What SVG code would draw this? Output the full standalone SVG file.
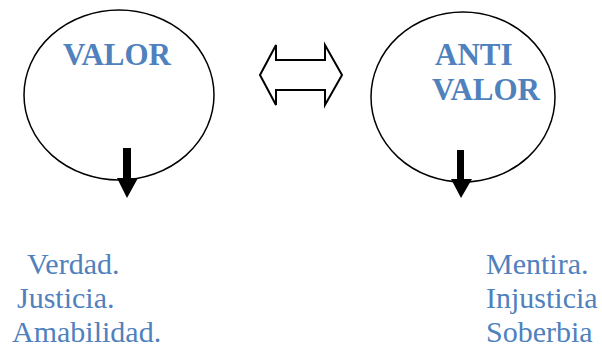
<svg xmlns="http://www.w3.org/2000/svg" width="602" height="347" viewBox="0 0 602 347">
<style>
.ell{fill:none;stroke:#000;stroke-width:1.5}
.title{font-family:"Liberation Serif",serif;font-weight:bold;font-size:31px;fill:#4F81BD}
.item{font-family:"Liberation Serif",serif;font-size:30px;fill:#4F81BD}
.arr{fill:#000}
</style>
<rect width="602" height="347" fill="#fff"/>
<g id="valor">
<ellipse class="ell" cx="119" cy="95" rx="95" ry="85"/>
<text class="title" x="117" y="65" text-anchor="middle">VALOR</text>
</g>
<g id="antivalor">
<ellipse class="ell" cx="463" cy="97" rx="92" ry="85"/>
<text class="title" x="435" y="65">ANTI</text>
<text class="title" x="432" y="100">VALOR</text>
</g>
<g id="double-arrow">
<polygon points="260,75 276,45 276,60 325,60 325,45 342,75 325,105 325,90 276,90 276,105" fill="#fff" stroke="#000" stroke-width="2" stroke-linejoin="miter"/>
</g>
<g id="connectors">
<polygon class="arr" points="123,148 131,148 131,178 138,178 127,198 117,178 123,178"/>
<polygon class="arr" points="457,150 464,150 464,179 472,179 461,198 451,179 457,179"/>
</g>
<g id="valores">
<text class="item" x="27" y="274">Verdad.</text>
<text class="item" x="17" y="308">Justicia.</text>
<text class="item" x="12" y="342">Amabilidad.</text>
</g>
<g id="antivalores">
<text class="item" x="486" y="274">Mentira.</text>
<text class="item" x="486" y="308">Injusticia</text>
<text class="item" x="486" y="342">Soberbia</text>
</g>
</svg>
